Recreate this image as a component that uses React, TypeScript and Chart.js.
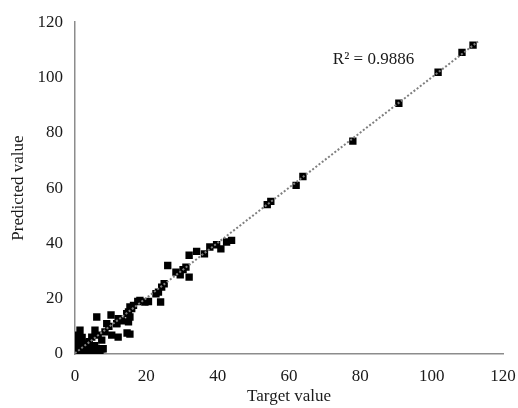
import React, { useEffect, useRef } from "react";
import { Chart, registerables } from "chart.js";

Chart.register(...registerables);

// Scatter data: target (x) vs predicted (y)
const targetValues: number[] = [
  111.6, 108.5, 101.8, 90.8, 77.9, 63.9, 62.0, 54.9, 53.9,
  43.9, 42.5, 40.9, 39.7, 37.8, 36.3, 34.1, 32.0, 31.1, 32.0, 28.3, 29.5, 26.0, 30.3,
  25.0, 24.3, 23.4, 22.7, 24.0, 20.6, 19.6, 18.2, 17.6, 16.4, 15.9, 15.0, 15.4, 15.0,
  12.1, 11.7, 15.4, 14.6, 14.5, 15.4, 13.0, 10.1, 6.1, 8.9, 9.5, 8.4, 10.3, 6.5, 5.6,
  4.7, 7.5, 7.0, 1.4, 0.9, 0.8, 2.0, 3.0, 1.0, 0.5, 2.5, 4.0, 5.0, 6.0, 3.5, 0.3, 1.5,
  4.0, 5.5, 6.5, 2.0, 0.2, 1.0, 3.0, 0.5, 12.1, 7.5, 7.9, 5.6, 11.7
];
const predictedValues: number[] = [
  111.7, 109.1, 101.9, 90.7, 77.0, 64.2, 61.0, 55.2, 54.0,
  41.1, 40.5, 38.0, 39.5, 38.7, 36.2, 37.1, 35.7, 31.4, 27.8, 29.6, 28.6, 32.0, 30.5,
  25.4, 24.2, 22.4, 21.8, 18.8, 19.0, 18.8, 19.4, 19.0, 17.6, 16.4, 15.2, 13.4, 11.6,
  12.8, 11.0, 7.2, 7.6, 14.6, 17.0, 12.0, 14.1, 13.4, 11.0, 10.0, 8.0, 6.8, 6.8, 8.6,
  6.1, 1.9, 0.7, 8.6, 6.8, 5.0, 4.0, 2.0, 1.0, 0.3, 0.5, 1.0, 0.5, 2.0, 3.5, 3.0, 2.5,
  4.5, 3.0, 1.0, 6.0, 5.5, 0.1, 0.2, 2.0, 6.1, 5.0, 1.9, 1.3, 11.0
];

// Linear trendline endpoints
const trendX: number[] = [0, 113];
const trendY: number[] = [0.3, 113];

const axisTicks: number[] = [0, 20, 40, 60, 80, 100, 120];
const r2Label = "R² = 0.9886";
const r2Pos: number[] = [72.3, 106.6];

const FONT = "'Liberation Serif', 'Times New Roman', serif";
const TEXT = "#1a1a1a";
const AXIS = "#8c8c8c";

export default function App() {
  const ref = useRef<HTMLCanvasElement | null>(null);

  useEffect(() => {
    if (!ref.current) return;
    document.body.style.margin = "0";

    const r2Plugin = {
      id: "r2label",
      afterDatasetsDraw(chart: any) {
        const { ctx, scales } = chart;
        const px = scales.x.getPixelForValue(r2Pos[0]);
        const py = scales.y.getPixelForValue(r2Pos[1]);
        ctx.save();
        ctx.font = `17px ${FONT}`;
        ctx.fillStyle = TEXT;
        ctx.textAlign = "left";
        ctx.textBaseline = "middle";
        ctx.fillText(r2Label, px, py);
        ctx.restore();
      },
    };

    const chart = new Chart(ref.current, {
      type: "scatter",
      data: {
        datasets: [
          {
            type: "line",
            data: trendX.map((x, i) => ({ x, y: trendY[i] })),
            borderColor: "#7f7f7f",
            borderWidth: 2,
            borderDash: [2, 2],
            pointRadius: 0,
            fill: false,
            order: 0,
          } as any,
          {
            data: targetValues.map((x, i) => ({ x, y: predictedValues[i] })),
            pointStyle: "rect",
            pointRadius: 5.2,
            backgroundColor: "#000000",
            borderColor: "#000000",
            borderWidth: 0,
            order: 1,
          },
        ],
      },
      options: {
        responsive: false,
        animation: false,
        layout: { padding: { top: 20, right: 15, left: 0, bottom: 0 } },
        plugins: { legend: { display: false }, tooltip: { enabled: false } },
        scales: {
          x: {
            type: "linear",
            min: 0,
            max: 120,
            afterBuildTicks: (s: any) => {
              s.ticks = axisTicks.map((v) => ({ value: v }));
            },
            afterFit: (s: any) => {
              s.height = 54;
              s.paddingRight = 0;
              s.paddingLeft = 0;
            },
            grid: { display: false, drawTicks: false },
            border: { display: true, color: AXIS, width: 1.5 },
            ticks: { padding: 12, color: TEXT, font: { family: FONT, size: 17 } },
            title: {
              display: true,
              text: "Target value",
              color: TEXT,
              font: { family: FONT, size: 17 },
              padding: { top: 0, bottom: 1 },
            },
          },
          y: {
            type: "linear",
            min: 0,
            max: 120,
            afterBuildTicks: (s: any) => {
              s.ticks = axisTicks.map((v) => ({ value: v }));
            },
            afterFit: (s: any) => {
              s.width = 75;
            },
            grid: { display: false, drawTicks: false },
            border: { display: true, color: AXIS, width: 1.5 },
            ticks: { padding: 12, color: TEXT, font: { family: FONT, size: 17 } },
            title: {
              display: true,
              text: "Predicted value",
              color: TEXT,
              font: { family: FONT, size: 17 },
              padding: { top: 8, bottom: 0 },
            },
          },
        },
      },
      plugins: [r2Plugin],
    });

    return () => chart.destroy();
  }, []);

  return (
    <div style={{ position: "absolute", left: 0, top: 0, width: 518, height: 408, background: "#fff" }}>
      <canvas ref={ref} width={518} height={408} style={{ width: 518, height: 408 }} />
    </div>
  );
}
